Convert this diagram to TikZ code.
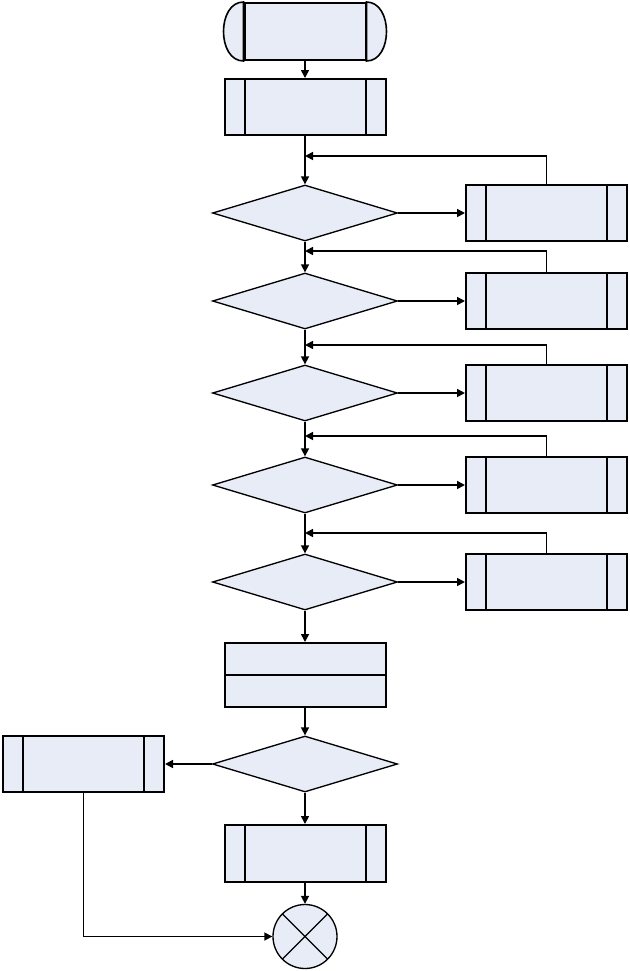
\documentclass[tikz,border=0pt]{standalone}
\usepackage{tikz}
\usetikzlibrary{arrows.meta,positioning,shapes.geometric}

\definecolor{boxfill}{RGB}{231,236,247}

\tikzset{
  term/.style={rectangle, draw, line width=1.5pt, fill=boxfill, minimum width=90.75pt, minimum height=42.75pt, inner sep=0pt},
  termcap/.style={draw, line width=1.2pt, fill=boxfill},
  subproc/.style={rectangle, draw, line width=1.5pt, fill=boxfill, minimum width=120.75pt, minimum height=42pt, inner sep=0pt,
    path picture={\draw [line width=1.5pt] ([xshift=15pt]path picture bounding box.north west) -- ([xshift=15pt]path picture bounding box.south west)
      ([xshift=-15pt]path picture bounding box.north east) -- ([xshift=-15pt]path picture bounding box.south east);}},
  decision/.style={diamond, draw, line width=1pt, fill=boxfill, minimum width=138.75pt, minimum height=42pt, inner sep=0pt},
  splitbox/.style={rectangle, draw, line width=1.5pt, fill=boxfill, minimum width=120.75pt, minimum height=48pt, inner sep=0pt,
    path picture={\draw [line width=1pt] (path picture bounding box.west) -- (path picture bounding box.east);}},
  endcircle/.style={circle, draw, line width=1pt, fill=boxfill, minimum size=48pt, inner sep=0pt,
    path picture={\draw [line width=1pt] (path picture bounding box.north west) -- (path picture bounding box.south east)
      (path picture bounding box.north east) -- (path picture bounding box.south west);}},
  arr/.style={line width=1.2pt, -{Triangle[length=6pt,width=6pt]}}
}

\begin{document}
\begin{tikzpicture}[x=0.75pt,y=0.75pt,yscale=-1,xscale=1]
\useasboundingbox (0,0) rectangle (630,971);

%Terminal
\node [term] (start) at (305,31.5) {};
\draw [termcap] (start.north west) .. controls +(-26.67,0) and +(-26.67,0) .. (start.south west) -- cycle;
\draw [termcap] (start.north east) .. controls +(26.67,0) and +(26.67,0) .. (start.south east) -- cycle;

%Main column
\node [subproc] (proc1) at (305,107) {};
\node [decision] (d1) at (305,213) {};
\node [decision] (d2) at (305,301) {};
\node [decision] (d3) at (305,393) {};
\node [decision] (d4) at (305,485) {};
\node [decision] (d5) at (305,582) {};
\node [splitbox] (split) at (305,675) {};
\node [decision] (d6) at (305,764) {};
\node [subproc, minimum height=42.75pt] (proc2) at (305,853.5) {};
\node [endcircle] (stop) at (305,936.5) {};

%Right column
\node [subproc] (r1) at (546.5,213) {};
\node [subproc] (r2) at (546.5,301) {};
\node [subproc] (r3) at (546.5,393) {};
\node [subproc] (r4) at (546.5,485) {};
\node [subproc] (r5) at (546.5,582) {};

%Left box
\node [subproc] (lbox) at (83.5,764) {};

%Return points
\coordinate (fb1) at (305,156);
\coordinate (fb2) at (305,251);
\coordinate (fb3) at (305,345);
\coordinate (fb4) at (305,436);
\coordinate (fb5) at (305,533);

%Connectors
\draw [arr] (start) -- (proc1);
\draw [arr] (proc1) -- (d1);
\draw [arr] (d1) -- (d2);
\draw [arr] (d2) -- (d3);
\draw [arr] (d3) -- (d4);
\draw [arr] (d4) -- (d5);
\draw [arr] (d5) -- (split);
\draw [arr] (split) -- (d6);
\draw [arr] (d6) -- (proc2);
\draw [arr] (proc2) -- (stop);

\draw [arr] (d1) -- (r1);
\draw [arr] (d2) -- (r2);
\draw [arr] (d3) -- (r3);
\draw [arr] (d4) -- (r4);
\draw [arr] (d5) -- (r5);

\draw [arr] (r1.north) |- (fb1);
\draw [arr] (r2.north) |- (fb2);
\draw [arr] (r3.north) |- (fb3);
\draw [arr] (r4.north) |- (fb4);
\draw [arr] (r5.north) |- (fb5);

\draw [arr] (d6) -- (lbox);
\draw [arr] (lbox.south) |- (stop);

\end{tikzpicture}
\end{document}
